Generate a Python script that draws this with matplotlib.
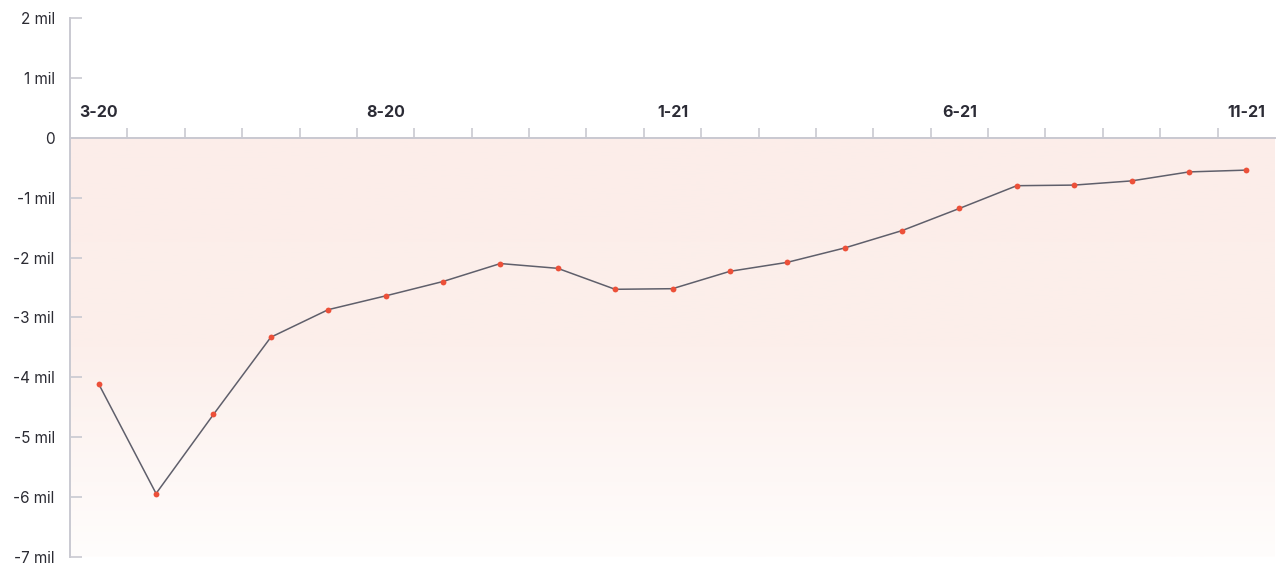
#!/usr/bin/env python3

import numpy as np
import matplotlib
matplotlib.use("Agg")
import matplotlib.pyplot as plt
from matplotlib.colors import LinearSegmentedColormap

# data (millions), monthly from 3-20 to 11-21
months = ["3-20", "4-20", "5-20", "6-20", "7-20", "8-20", "9-20", "10-20", "11-20", "12-20",
          "1-21", "2-21", "3-21", "4-21", "5-21", "6-21", "7-21", "8-21", "9-21", "10-21", "11-21"]
values = [-4.11, -5.94, -4.62, -3.33, -2.87, -2.64, -2.40, -2.10, -2.18, -2.53,
          -2.52, -2.23, -2.08, -1.84, -1.55, -1.18, -0.80, -0.79, -0.72, -0.57, -0.54]
label_every = 5
y_ticks = [2, 1, 0, -1, -2, -3, -4, -5, -6, -7]
y_labels = ["2 mil", "1 mil", "0", "-1 mil", "-2 mil", "-3 mil", "-4 mil", "-5 mil", "-6 mil", "-7 mil"]

plt.rcParams["font.family"] = ["Inter", "DejaVu Sans"]

W, H = 1276, 566
fig = plt.figure(figsize=(W / 100, H / 100), dpi=100)
ax = fig.add_axes([70 / W, 9 / H, 1205 / W, 539 / H])

n = len(values)
x = np.arange(n)
ax.set_xlim(-0.5, n - 0.5)
ax.set_ylim(-7, 2)

# gradient fill below zero
cmap = LinearSegmentedColormap.from_list("pinkfade", ["#fffdfc", "#fcefeb", "#fcede9"])
grad = np.linspace(0, 1, 256).reshape(-1, 1)
ax.imshow(grad, extent=(-0.5, n - 0.5, -7, 0), origin="lower", aspect="auto",
          cmap=cmap, zorder=0)

ax.plot(x, values, color="#5f5f6b", lw=1.1, zorder=3)
ax.plot(x, values, "o", color="#ec5039", ms=4.2, mec="none", zorder=4)

# axes styling
axis_col = "#c9c9d1"
for s in ["top", "right"]:
    ax.spines[s].set_visible(False)
ax.spines["bottom"].set_position(("data", 0))
ax.spines["bottom"].set_color(axis_col)
ax.spines["bottom"].set_linewidth(1.4)
ax.spines["left"].set_color(axis_col)
ax.spines["left"].set_linewidth(1.4)

ax.set_xticks(np.arange(n - 1) + 0.5)
ax.set_xticklabels([])
ax.tick_params(axis="x", direction="in", length=7.5, width=1.2, color=axis_col)

ax.set_yticks(y_ticks)
ax.set_yticklabels(y_labels)
ax.tick_params(axis="y", direction="in", length=8.5, width=1.2, color=axis_col,
               labelsize=11, labelcolor="#2b2b33", pad=11)

for i in range(0, n, label_every):
    ax.annotate(months[i], xy=(i, 0), xytext=(0, 13), textcoords="offset points",
                ha="center", va="bottom", fontsize=11.5, fontweight="bold", color="#2b2b35")

fig.savefig("out.png", dpi=100)
